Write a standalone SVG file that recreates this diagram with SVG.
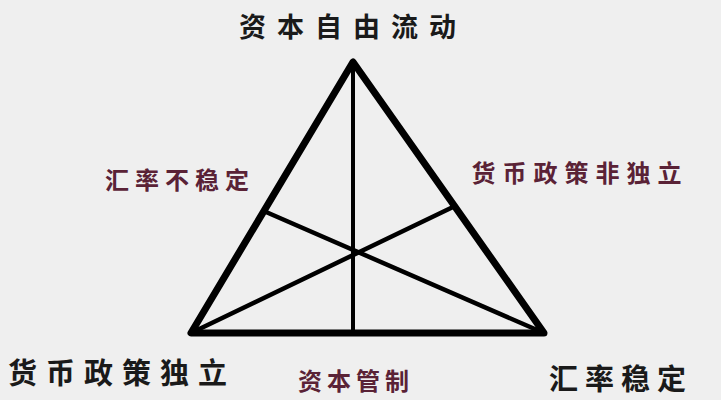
<svg xmlns="http://www.w3.org/2000/svg" width="721" height="400" viewBox="0 0 721 400">
<style>
.t{font-family:"Noto Sans CJK SC","Noto Sans",sans-serif;font-weight:bold}
.k{fill:#1a1a1a}
.r{fill:#5a2236}
.edge{stroke:#000;fill:none;stroke-linecap:round;stroke-linejoin:round}
</style>
<rect width="721" height="400" fill="#efefef"/>
<g id="connectors">
<polygon class="edge" points="353,62 191,333 544,333" stroke-width="7"/>
<line class="edge" x1="353" y1="62" x2="353" y2="333" stroke-width="4"/>
<line class="edge" x1="191" y1="333" x2="453" y2="207" stroke-width="4.5"/>
<line class="edge" x1="544" y1="333" x2="266" y2="212" stroke-width="4.5"/>
</g>
<g id="top"><text class="t k" x="353" y="37" font-size="27" letter-spacing="11" text-anchor="middle">资本自由流动</text></g>
<g id="left-mid"><text class="t r" x="180" y="189" font-size="24" letter-spacing="6" text-anchor="middle">汇率不稳定</text></g>
<g id="right-mid"><text class="t r" x="580" y="182" font-size="24" letter-spacing="7" text-anchor="middle">货币政策非独立</text></g>
<g id="bottom-left"><text class="t k" x="122" y="384" font-size="29" letter-spacing="9" text-anchor="middle">货币政策独立</text></g>
<g id="bottom-mid"><text class="t r" x="356" y="390" font-size="24" letter-spacing="5" text-anchor="middle">资本管制</text></g>
<g id="bottom-right"><text class="t k" x="621" y="390" font-size="29" letter-spacing="7" text-anchor="middle">汇率稳定</text></g>
</svg>
